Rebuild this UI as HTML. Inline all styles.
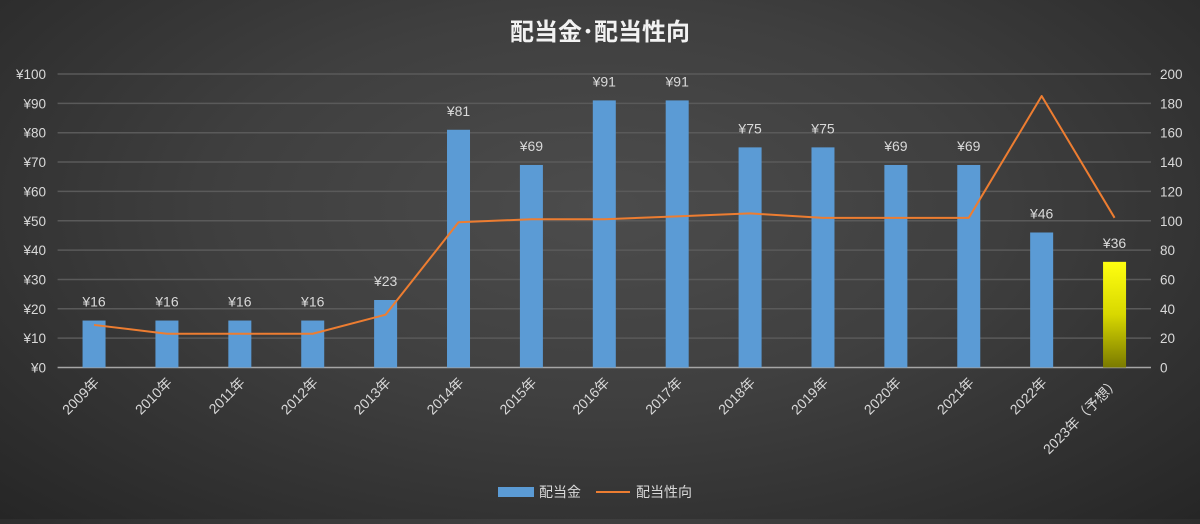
<!DOCTYPE html>
<html><head><meta charset="utf-8"><style>
html,body{margin:0;padding:0;}
body{width:1200px;height:519px;overflow:hidden;background:radial-gradient(ellipse at 50% 40%,#4c4c4c 0%,#3f3f3f 45%,#262626 100%);font-family:"Liberation Sans","Noto Sans CJK JP",sans-serif;}
svg text{font-family:"Liberation Sans","Noto Sans CJK JP",sans-serif;}
</style></head><body>
<svg id="chart" width="1200" height="519" xmlns="http://www.w3.org/2000/svg">
<defs><linearGradient id="yg" x1="0" y1="0" x2="0" y2="1"><stop offset="0" stop-color="#ffff10"/><stop offset="0.5" stop-color="#d8d800"/><stop offset="1" stop-color="#7a7a00"/></linearGradient></defs>
<text x="600" y="40" text-anchor="middle" fill="#f2f2f2" font-size="24" font-weight="bold">配当金･配当性向</text>
<g id="grid"></g><g id="bars"></g><g id="line"></g><g id="labels"></g>
<g>
<rect x="498" y="487" width="36" height="10" fill="#5b9bd5"/>
<text x="539" y="497" fill="#d9d9d9" font-size="14">配当金</text>
<line x1="596" y1="492" x2="630" y2="492" stroke="#ed7d31" stroke-width="2"/>
<text x="636" y="497" fill="#d9d9d9" font-size="14">配当性向</text>
</g>
</svg>
<script>
const categories=["2009年","2010年","2011年","2012年","2013年","2014年","2015年","2016年","2017年","2018年","2019年","2020年","2021年","2022年","2023年（予想）"];
const dividends=[16,16,16,16,23,81,69,91,91,75,75,69,69,46,36];
const payoutRatio=[29,23,23,23,36,99,101,101,103,105,102,102,102,185,102];
const leftTicks=[0,10,20,30,40,50,60,70,80,90,100];
const rightTicks=[0,20,40,60,80,100,120,140,160,180,200];
const NS="http://www.w3.org/2000/svg";
const X0=57.6,X1=1151,Y0=367.5,Y1=74;
const band=(X1-X0)/categories.length;
const xC=i=>X0+band*(i+0.5);
const yL=v=>Y0-(v/100)*(Y0-Y1);
const yR=v=>Y0-(v/200)*(Y0-Y1);
function mk(tag,attrs,parent,txt){const e=document.createElementNS(NS,tag);for(const k in attrs)e.setAttribute(k,attrs[k]);if(txt!==undefined)e.textContent=txt;parent.appendChild(e);return e;}
const grid=document.getElementById('grid'),bars=document.getElementById('bars'),line=document.getElementById('line'),labels=document.getElementById('labels');
leftTicks.forEach((t,i)=>{
  const y=yL(t);
  if(t>0){const g=mk('line',{x1:X0,x2:X1,y1:y,y2:y,stroke:'#5a5a5a','stroke-width':1.5},grid);
  
  }
  const l=mk('text',{x:46,y:y+5,'text-anchor':'end',fill:'#d9d9d9','font-size':13.5},labels,'¥'+t);
  
  
});
rightTicks.forEach(t=>{
  const l=mk('text',{x:1160,y:yR(t)+5,fill:'#d9d9d9','font-size':13.5},labels,String(t));
  
  
});
const ax=mk('line',{x1:X0,x2:X1,y1:Y0,y2:Y0,stroke:'#a6a6a6','stroke-width':1.5},grid);


const bw=23;
dividends.forEach((v,i)=>{
  const last=i===dividends.length-1;
  const r=mk('rect',{x:xC(i)-bw/2,y:yL(v),width:bw,height:Y0-yL(v),fill:last?'url(#yg)':'#5b9bd5'},bars);
  
  
  const t=mk('text',{x:xC(i),y:yL(v)-14,'text-anchor':'middle',fill:'#d9d9d9','font-size':14},labels,'¥'+v);
  
  
  const c=mk('text',{x:xC(i)+6,y:Y0+16,'text-anchor':'end',fill:'#d9d9d9','font-size':14,transform:`rotate(-45 ${xC(i)+6} ${Y0+16})`},labels,categories[i]);
  
  
});
const pts=payoutRatio.map((v,i)=>xC(i)+','+yR(v)).join(' ');
const pl=mk('polyline',{points:pts,fill:'none',stroke:'#ed7d31','stroke-width':2,'stroke-linejoin':'round'},line);


</script>
</body></html>
